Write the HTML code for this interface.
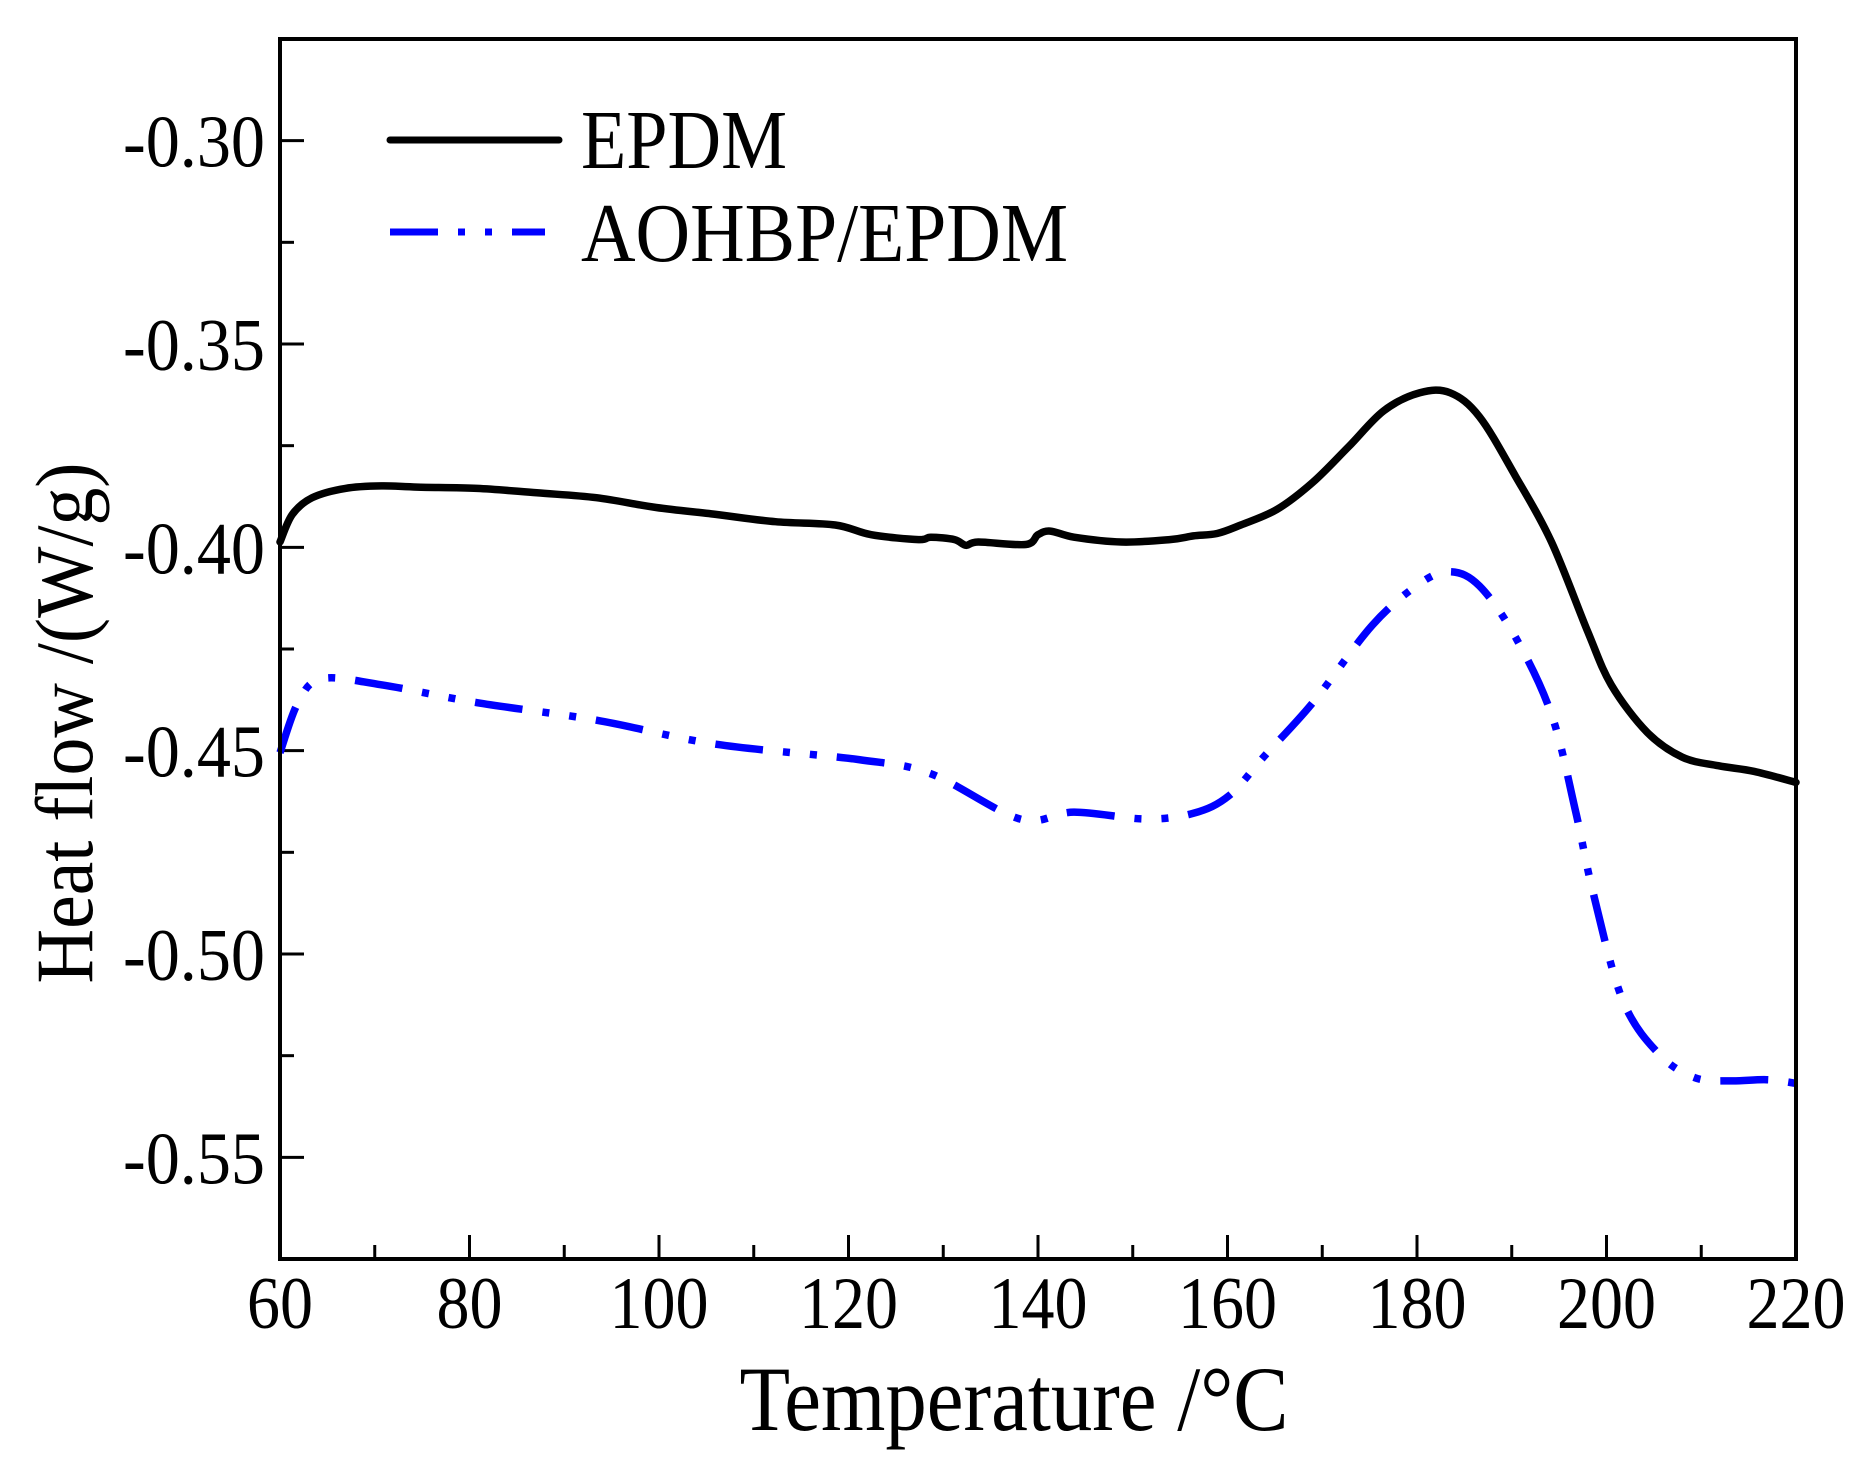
<!DOCTYPE html>
<html><head><meta charset="utf-8"><style>
html,body{margin:0;padding:0;background:#fff;}
svg{display:block;font-family:"Liberation Serif",serif;}
</style></head><body>
<svg id="chart" width="1871" height="1473" viewBox="0 0 1871 1473"></svg>
<script>
const xTicks=[60,80,100,120,140,160,180,200,220];
const yTicks=[-0.30,-0.35,-0.40,-0.45,-0.50,-0.55];
const yTickLabels=["-0.30","-0.35","-0.40","-0.45","-0.50","-0.55"];
const epdmT=[60,61.3,63.4,66.9,70.7,74.5,80.8,87.1,93.4,99.7,106,112.3,118.6,122.4,127.4,128.7,131.2,132.4,133.7,138.7,140,141.3,143.8,148.8,153.9,156.4,158.9,161.4,165.2,169,172.8,176.5,180.3,183.5,186.6,190.4,194.2,198,200.5,204.3,208,211.8,215.6,220];
const epdmV=[-0.3987,-0.3919,-0.3878,-0.3855,-0.3849,-0.3852,-0.3855,-0.3866,-0.3878,-0.3902,-0.3919,-0.3937,-0.3945,-0.3969,-0.3981,-0.3975,-0.3981,-0.3995,-0.3987,-0.3993,-0.3969,-0.396,-0.3975,-0.3987,-0.3981,-0.3972,-0.3966,-0.3945,-0.3907,-0.384,-0.3752,-0.3664,-0.362,-0.362,-0.3679,-0.3825,-0.3987,-0.4206,-0.4338,-0.4455,-0.4516,-0.4537,-0.4551,-0.4578];
const aoT=[60,61.9,64.4,70.7,80.8,93.4,106,121.1,128.7,138.1,143.8,151.3,156.4,160.2,163.9,169,175.3,180.3,183.5,186.6,190.4,194.2,196.7,198.6,201.7,205.5,209.3,213.1,216.9,220];
const aoV=[-0.4505,-0.4382,-0.4323,-0.4338,-0.4382,-0.4425,-0.4484,-0.4522,-0.4557,-0.4668,-0.4651,-0.4668,-0.4654,-0.461,-0.4513,-0.4382,-0.4191,-0.4089,-0.406,-0.4095,-0.4221,-0.4411,-0.4645,-0.485,-0.5113,-0.5245,-0.5304,-0.5312,-0.5309,-0.5318];
const L=280,R=1796,T=39,B=1259,xMin=60,xMax=220,yMin=-0.575,yMax=-0.275;
const sx=v=>L+(v-xMin)/(xMax-xMin)*(R-L);
const sy=v=>B-(v-yMin)/(yMax-yMin)*(B-T);
const svg=document.getElementById('chart');const NS='http://www.w3.org/2000/svg';
function mk(tag,attrs,parent){const e=document.createElementNS(NS,tag);for(const k in attrs)e.setAttribute(k,attrs[k]);(parent||svg).appendChild(e);return e;}
xTicks.forEach((t,i)=>{
 const x=sx(t);
 const tk=mk('line',{x1:x,x2:x,y1:B,y2:B-24,stroke:'#000','stroke-width':3});
 
 
 const s=String(t);
 const lb=mk('text',{x:x,y:1328,'text-anchor':'middle','font-size':74,textLength:s.length*33,lengthAdjust:'spacingAndGlyphs'});
 lb.textContent=s;
 
 
 if(i<xTicks.length-1){const m=sx(t+10);
  const mt=mk('line',{x1:m,x2:m,y1:B,y2:B-14,stroke:'#000','stroke-width':3});
  
  }
});
yTicks.forEach((t,i)=>{
 const y=sy(t);
 const tk=mk('line',{x1:L,x2:L+24,y1:y,y2:y,stroke:'#000','stroke-width':3});
 
 
 const lb=mk('text',{x:265,y:y+26,'text-anchor':'end','font-size':74,textLength:142,lengthAdjust:'spacingAndGlyphs'});
 lb.textContent=yTickLabels[i];
 
 
 const m=sy(t-0.025);
 const mt=mk('line',{x1:L,x2:L+14,y1:m,y2:m,stroke:'#000','stroke-width':3});
 
 
});
function path(ts,vs){
 const p=ts.map((t,i)=>[sx(t),sy(vs[i])]);
 let d='M'+p[0][0].toFixed(1)+','+p[0][1].toFixed(1);
 for(let i=0;i<p.length-1;i++){
  const p0=p[Math.max(i-1,0)],p1=p[i],p2=p[i+1],p3=p[Math.min(i+2,p.length-1)];
  const c1=[p1[0]+(p2[0]-p0[0])/6,p1[1]+(p2[1]-p0[1])/6];
  const c2=[p2[0]-(p3[0]-p1[0])/6,p2[1]-(p3[1]-p1[1])/6];
  d+=' C'+c1[0].toFixed(1)+','+c1[1].toFixed(1)+' '+c2[0].toFixed(1)+','+c2[1].toFixed(1)+' '+p2[0].toFixed(1)+','+p2[1].toFixed(1);
 }
 return d;}
const p1=mk('path',{d:path(epdmT,epdmV),fill:'none',stroke:'#000','stroke-width':7.5,'stroke-linejoin':'round','stroke-linecap':'round'});


const p2=mk('path',{d:path(aoT,aoV),fill:'none',stroke:'#0000ff','stroke-width':7.5,'stroke-dasharray':'48,20,7,20,7,20','stroke-linejoin':'round'});


const fr=mk('rect',{x:L,y:T,width:R-L,height:B-T,fill:'none',stroke:'#000','stroke-width':4});


const g=mk('g',{});


const l1=mk('line',{x1:390,x2:559,y1:140,y2:140,stroke:'#000','stroke-width':7,'stroke-linecap':'round'},g);


const t1=mk('text',{x:581,y:168,'font-size':84,textLength:206,lengthAdjust:'spacingAndGlyphs'},g);t1.textContent='EPDM';


const l2=mk('line',{x1:390,x2:545,y1:232,y2:232,stroke:'#0000ff','stroke-width':7,'stroke-dasharray':'48,20,7,20,7,20'},g);


const t2=mk('text',{x:581,y:261,'font-size':84,textLength:487,lengthAdjust:'spacingAndGlyphs'},g);t2.textContent='AOHBP/EPDM';


const xt=mk('text',{x:1014,y:1430,'text-anchor':'middle','font-size':92,textLength:549,lengthAdjust:'spacingAndGlyphs'});xt.textContent='Temperature /°C';


const yt=mk('text',{x:0,y:0,'text-anchor':'middle','font-size':82,textLength:521,lengthAdjust:'spacingAndGlyphs',transform:'translate(92,723) rotate(-90)'});yt.textContent='Heat flow /(W/g)';


</script>
</body></html>
